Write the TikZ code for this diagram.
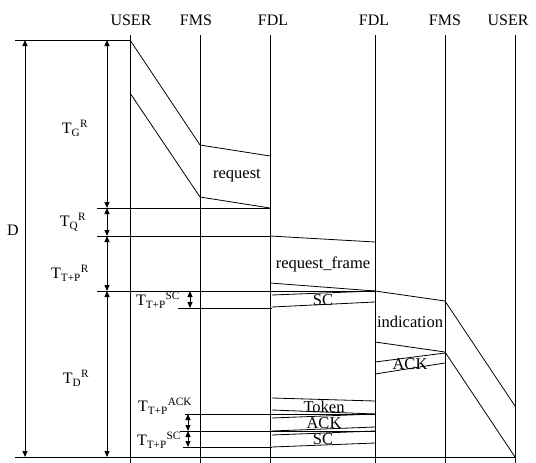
\documentclass[tikz,border=0pt]{standalone}
\usepackage{fontspec}
\setmainfont{Liberation Serif}
\usetikzlibrary{arrows.meta}
\begin{document}
\begin{tikzpicture}[x=1pt,y=-1pt, line width=0.8pt,
  dimarr/.style={{Triangle[length=6pt,width=5pt]}-{Triangle[length=6pt,width=5pt]}, line width=0.8pt},
  hdr/.style={font=\fontsize{16}{18}\selectfont, inner sep=0pt},
  msg/.style={font=\fontsize{16.5}{18}\selectfont, inner sep=0pt},
  lab/.style={font=\fontsize{16}{18}\selectfont, inner sep=0pt}]
\useasboundingbox (0,0) rectangle (536,463);
% headers
\node[hdr] (hU1) at (131,20) {USER};
\node[hdr] (hM1) at (196,20) {FMS};
\node[hdr] (hD1) at (273,20) {FDL};
\node[hdr] (hD2) at (374,20) {FDL};
\node[hdr] (hM2) at (445,20) {FMS};
\node[hdr] (hU2) at (508,20) {USER};
% lifelines
\foreach \n/\x in {U1/130,M1/200,D1/270,D2/375,M2/445,U2/515}{
  \coordinate (\n t) at (\x,35);
  \coordinate (\n b) at (\x,463);
  \draw (\n t) -- (\n b);
}
% request USER->FMS->FDL
\draw (130,40) -- (200,145) -- (270,156);
\draw (130,93) -- (200,197) -- (270,208);
\node[msg] (req) at (237,176) {request};
% request_frame
\draw (270,236) -- (375,242);
\draw (270,283) -- (375,291);
\node[msg] (rqf) at (323,264) {request\_frame};
% SC 1
\draw (375,291) -- (272,295);
\draw (375,302) -- (272,307);
\node[msg] (sc1) at (323,300) {SC};
% indication
\draw (375,291) -- (445,301) -- (515,406);
\draw (375,342) -- (445,352) -- (515,457);
\node[msg] (ind) at (410,322) {indication};
% ACK 1
\draw (445,353) -- (375,362);
\draw (445,363) -- (375,374);
\node[msg] (ack1) at (410,364) {ACK};
% Token
\draw (272,398) -- (375,401);
\draw (272,410) -- (375,414);
\node[msg] (tok) at (324,407) {Token};
% ACK 2
\draw (375,414) -- (272,418);
\draw (375,427) -- (272,431);
\node[msg] (ack2) at (324,423) {ACK};
% SC 2
\draw (375,431) -- (272,435);
\draw (375,443) -- (272,447);
\node[msg] (sc2) at (323,439) {SC};
% horizontal reference lines
\draw (15,40) -- (130,40);
\draw (97,208) -- (270,208);
\draw (97,236) -- (270,236);
\draw (97,291) -- (375,291);
\draw (178,308) -- (272,308);
\draw (185,414) -- (375,414);
\draw (180,431) -- (375,431);
\draw (183,447) -- (272,447);
\draw (15,457) -- (515,457);
% dimension arrows
\draw[dimarr] (25,40) -- (25,457);
\draw[dimarr] (107,40) -- (107,208);
\draw[dimarr] (107,208) -- (107,236);
\draw[dimarr] (107,236) -- (107,291);
\draw[dimarr] (107,291) -- (107,457);
\draw[dimarr] (190,291) -- (190,308);
\draw[dimarr] (188,414) -- (188,431);
\draw[dimarr] (188,431) -- (188,447);
% labels
\node[hdr] (lD) at (13,230) {D};
\node[lab] (lG) at (75,128) {T\textsubscript{G}\textsuperscript{R}};
\node[lab] (lQ) at (73,222) {T\textsubscript{Q}\textsuperscript{R}};
\node[lab] (lTP) at (70,273) {T\textsubscript{T+P}\textsuperscript{R}};
\node[lab] (lSC1) at (158,300) {T\textsubscript{T+P}\textsuperscript{SC}};
\node[lab] (lDR) at (76,378) {T\textsubscript{D}\textsuperscript{R}};
\node[lab] (lACK) at (165,406) {T\textsubscript{T+P}\textsuperscript{ACK}};
\node[lab] (lSC2) at (159,440) {T\textsubscript{T+P}\textsuperscript{SC}};
\end{tikzpicture}
\end{document}
